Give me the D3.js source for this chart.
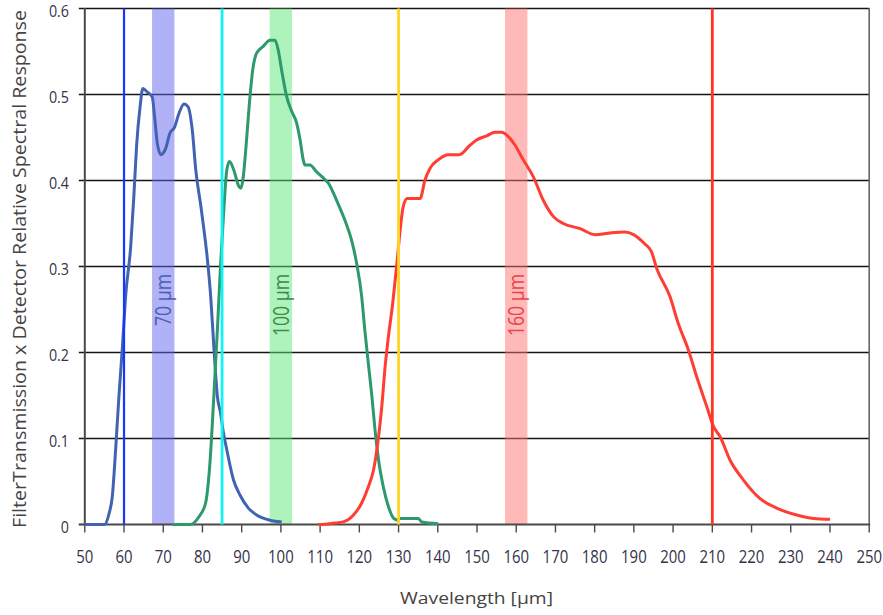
<!DOCTYPE html>
<html>
<head>
<meta charset="utf-8">
<script src="https://cdn.jsdelivr.net/npm/d3@7"></script>
<style>
  html, body { margin: 0; padding: 0; background: #fff; }
  svg { display: block; font-family: "Open Sans", "Noto Sans", sans-serif; }
</style>
</head>
<body>
<svg id="chart" width="883" height="615"></svg>
<script>
// Filter transmission x detector relative spectral response for the three PACS-like bands

// 70 µm band
const blueWl  = [50, 55, 56.2, 57, 57.9, 58.7, 59.6, 60.4, 61.7, 62.5, 63.2, 64.1, 64.8, 65.9, 67.2, 67.8, 68.5, 69.4, 70.6, 71.7, 72.9, 74.0, 75.3, 76.3, 77.4, 78.3, 79.6, 80.4, 81.2, 82.1, 82.9, 83.8, 84.6, 85.3, 86.2, 87.9, 89.6, 91.7, 93.8, 97.2, 100.2];
const blueVal = [0, 0, 0.013, 0.032, 0.09, 0.149, 0.207, 0.265, 0.323, 0.381, 0.44, 0.486, 0.507, 0.503, 0.497, 0.474, 0.443, 0.430, 0.437, 0.455, 0.462, 0.478, 0.489, 0.486, 0.459, 0.412, 0.370, 0.342, 0.311, 0.265, 0.207, 0.149, 0.13, 0.108, 0.087, 0.052, 0.034, 0.019, 0.011, 0.005, 0.003];

// 100 µm band
const greenWl  = [72.3, 77.0, 79.1, 80.8, 81.9, 82.9, 83.8, 84.6, 85.5, 86.2, 86.9, 88.0, 89.3, 89.8, 90.4, 91.1, 91.9, 92.8, 93.8, 95.5, 97.2, 98.5, 99.3, 100.2, 101.5, 102.8, 104.0, 104.9, 105.7, 106.1, 107.4, 109.1, 110.8, 112.1, 114.2, 116.3, 118.0, 119.3, 120.6, 121.4, 122.3, 123.2, 124.0, 124.9, 126.1, 127.4, 128.8, 129.9, 130.3, 135.0, 135.9, 140.1];
const greenVal = [0, 0, 0.009, 0.025, 0.071, 0.149, 0.226, 0.30, 0.37, 0.412, 0.422, 0.412, 0.393, 0.391, 0.404, 0.439, 0.486, 0.528, 0.548, 0.556, 0.563, 0.563, 0.552, 0.528, 0.497, 0.480, 0.467, 0.447, 0.424, 0.418, 0.418, 0.410, 0.403, 0.397, 0.377, 0.354, 0.331, 0.304, 0.265, 0.226, 0.187, 0.149, 0.110, 0.075, 0.044, 0.021, 0.007, 0.005, 0.007, 0.007, 0.003, 0.001];

// 160 µm band
const redWl  = [109.5, 112.5, 115.9, 118.5, 120.6, 122.3, 123.6, 124.9, 125.8, 126.5, 127.4, 128.5, 129.5, 130.4, 131.2, 132.2, 135.5, 136.7, 138.0, 140.1, 142.7, 145.5, 148.2, 149.9, 152.5, 154.6, 156.3, 158.0, 159.7, 161.8, 164.4, 166.9, 169.5, 172.0, 176.3, 180.1, 184.0, 187.7, 189.9, 192.6, 194.5, 195.8, 199.2, 201.3, 203.9, 206.0, 208.6, 210.3, 212.0, 214.5, 217.9, 222.2, 226.4, 231.5, 235.8, 240.0];
const redVal = [0, 0.001, 0.003, 0.011, 0.025, 0.044, 0.063, 0.102, 0.141, 0.18, 0.218, 0.257, 0.30, 0.342, 0.37, 0.379, 0.379, 0.40, 0.414, 0.424, 0.430, 0.430, 0.441, 0.447, 0.452, 0.456, 0.456, 0.451, 0.441, 0.424, 0.404, 0.377, 0.358, 0.350, 0.344, 0.337, 0.339, 0.340, 0.337, 0.327, 0.317, 0.298, 0.265, 0.234, 0.203, 0.172, 0.137, 0.114, 0.102, 0.075, 0.052, 0.030, 0.019, 0.011, 0.007, 0.006];

// shaded band centres (µm) and their labels
const bandCenters = [70, 100, 160];
const bandHalfWidth = 2.85;
const bandLabels = ["70 µm", "100 µm", "160 µm"];

// vertical marker wavelengths (µm)
const markerWl = [60, 85, 130, 210];

// axis ticks
const xTicks = d3.range(50, 251, 10);
const yTicks = [0, 0.1, 0.2, 0.3, 0.4, 0.5, 0.6];
const xTitle = "Wavelength [µm]";
const yTitle = "FilterTransmission x Detector Relative Spectral Response";

// styling
const curveColors  = ["#4263b2", "#2c9a6c", "#ff3d33"];
const bandColors   = ["#6464f0", "#5ee878", "#ff7474"];
const labelColors  = ["#4a60b0", "#3e8a4c", "#e8454a"];
const markerColors = ["#1438ff", "#12f4f4", "#ffd522", "#ff3524"];

const svg = d3.select("#chart");
const L = 84.8, R = 869.2, T = 8.5, B = 524.5;

const x = d3.scaleLinear().domain([50, 250]).range([L, R]);
const y = d3.scaleLinear().domain([0, 0.6]).range([B, T]);

// squeeze text horizontally to a narrower face
function condense(sel, f) {
  sel.each(function () {
    const w = this.getComputedTextLength();
    d3.select(this).attr("textLength", w * f).attr("lengthAdjust", "spacingAndGlyphs");
  });
}

// horizontal gridlines (extend left as ticks)
svg.append("g")
  .selectAll("line").data(yTicks.filter(d => d > 0)).join("line")
  .attr("x1", L - 6).attr("x2", R)
  .attr("y1", d => y(d)).attr("y2", d => y(d))
  .attr("stroke", "#151515").attr("stroke-width", 1.4);

// shaded bands on top of gridlines
svg.append("g")
  .selectAll("rect").data(bandCenters).join("rect")
  .attr("x", d => x(d - bandHalfWidth))
  .attr("width", d => x(d + bandHalfWidth) - x(d - bandHalfWidth))
  .attr("y", y(0.6)).attr("height", y(0) - y(0.6))
  .attr("fill", (d, i) => bandColors[i]).attr("fill-opacity", 0.5);

// band labels
const bandText = svg.append("g")
  .selectAll("text").data(bandCenters).join("text")
  .attr("transform", d => `translate(${x(d) + 8},274) rotate(-90)`)
  .attr("text-anchor", "end")
  .attr("font-size", 21)
  .attr("fill", (d, i) => labelColors[i])
  .text((d, i) => bandLabels[i]);
condense(bandText, 0.84);

// axes frame
const frame = svg.append("g").attr("stroke", "#4a4a4a").attr("fill", "none");
frame.append("line").attr("x1", L).attr("x2", L).attr("y1", T - 0.5).attr("y2", B).attr("stroke-width", 2);
frame.append("line").attr("x1", R).attr("x2", R).attr("y1", T - 0.5).attr("y2", B).attr("stroke-width", 1.6).attr("stroke", "#666");
frame.append("line").attr("x1", L - 6).attr("x2", R + 1).attr("y1", B).attr("y2", B).attr("stroke-width", 2);

// y tick at zero
frame.append("line").attr("x1", L - 6).attr("x2", L).attr("y1", y(0)).attr("y2", y(0)).attr("stroke-width", 1.4);

// x tick marks
frame.selectAll("line.xt").data(xTicks).join("line").attr("class", "xt")
  .attr("x1", d => x(d)).attr("x2", d => x(d))
  .attr("y1", B).attr("y2", B + 8).attr("stroke-width", 1.4);

// spectral response curves
const line = d3.line().x(d => x(d[0])).y(d => y(d[1])).curve(d3.curveMonotoneX);
const series = [
  d3.zip(blueWl, blueVal),
  d3.zip(greenWl, greenVal),
  d3.zip(redWl, redVal)
];
svg.append("g")
  .selectAll("path").data(series).join("path")
  .attr("d", line)
  .attr("fill", "none")
  .attr("stroke", (d, i) => curveColors[i])
  .attr("stroke-width", 3)
  .attr("stroke-linejoin", "round")
  .attr("stroke-linecap", "butt");

// vertical marker lines
svg.append("g")
  .selectAll("line").data(markerWl).join("line")
  .attr("x1", d => x(d)).attr("x2", d => x(d))
  .attr("y1", y(0.6)).attr("y2", y(0))
  .attr("stroke", (d, i) => markerColors[i])
  .attr("stroke-width", (d, i) => i === 0 ? 2.2 : 2.8);

// x tick labels
const xl = svg.append("g")
  .selectAll("text").data(xTicks).join("text")
  .attr("x", d => x(d)).attr("y", 563)
  .attr("text-anchor", "middle")
  .attr("font-size", 18)
  .attr("fill", "#33334a")
  .text(d => d);
condense(xl, 0.83);

// y tick labels
const yl = svg.append("g")
  .selectAll("text").data(yTicks).join("text")
  .attr("x", 69).attr("y", d => y(d) + 8)
  .attr("text-anchor", "end")
  .attr("font-size", 17)
  .attr("fill", "#33334a")
  .text(d => d === 0 ? "0" : d3.format(".1f")(d));
condense(yl, 0.84);

// axis titles
svg.append("text")
  .attr("x", 476.5).attr("y", 604)
  .attr("text-anchor", "middle")
  .attr("font-size", 17)
  .attr("fill", "#444")
  .attr("textLength", 153).attr("lengthAdjust", "spacingAndGlyphs")
  .text(xTitle);

svg.append("text")
  .attr("transform", "translate(26,269) rotate(-90)")
  .attr("text-anchor", "middle")
  .attr("font-size", 18)
  .attr("fill", "#444")
  .attr("textLength", 518).attr("lengthAdjust", "spacingAndGlyphs")
  .text(yTitle);
</script>
</body>
</html>
